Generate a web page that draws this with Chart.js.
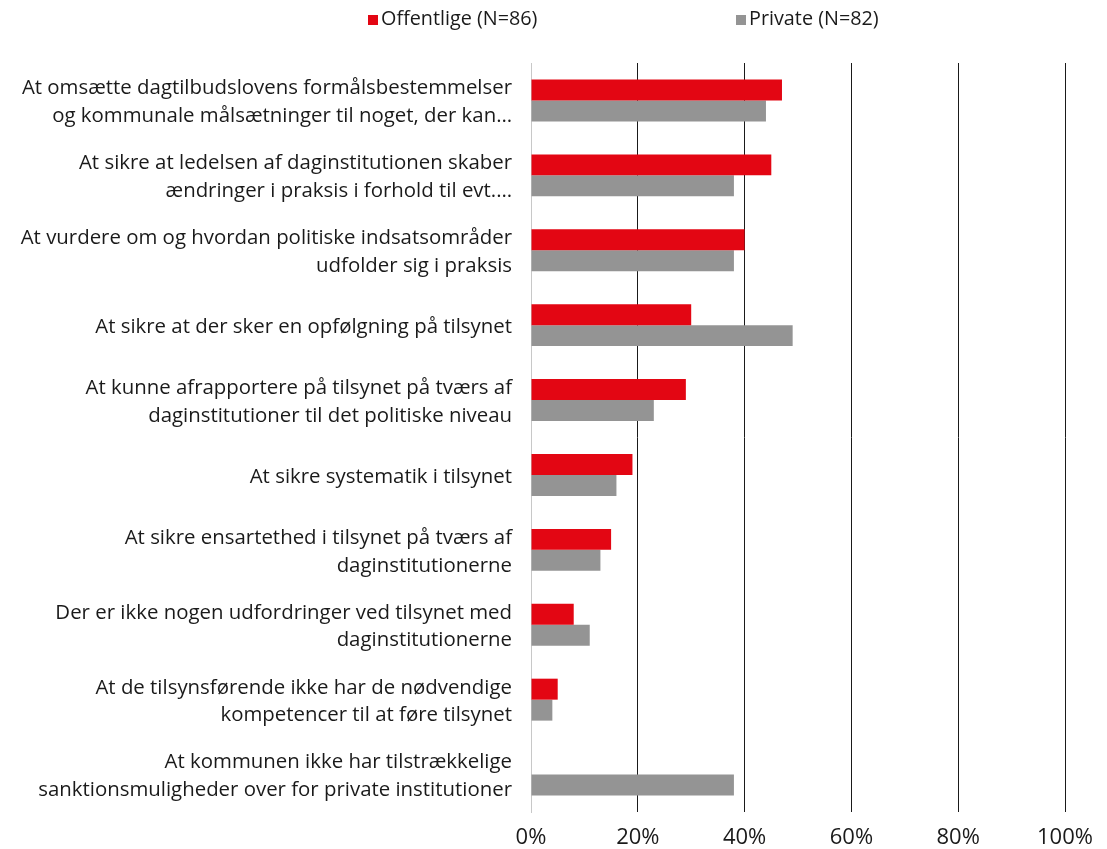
<!DOCTYPE html>
<html>
<head>
<meta charset="utf-8">
<script src="https://cdn.jsdelivr.net/npm/chart.js@4/dist/chart.umd.min.js"></script>
<style>
  html, body { margin: 0; padding: 0; background: #fff; }
  #wrap { position: relative; width: 1107px; height: 849px; }
  #legend { position: absolute; top: 4px; left: 0; width: 1107px; height: 28px; font-family: "Open Sans", sans-serif; font-size: 19.8px; color: #1a1a1a; }
  #legend .item { position: absolute; top: 0; line-height: 28px; white-space: nowrap; }
  #legend .box { display: inline-block; width: 10px; height: 10px; margin-right: 3px; vertical-align: 0px; }
</style>
</head>
<body>
<div id="wrap">
  <div id="legend"></div>
  <canvas id="myChart" width="1107" height="849"></canvas>
</div>
<script>
const categories = [
  ['At omsætte dagtilbudslovens formålsbestemmelser', 'og kommunale målsætninger til noget, der kan…'],
  ['At sikre at ledelsen af daginstitutionen skaber', 'ændringer i praksis i forhold til evt.…'],
  ['At vurdere om og hvordan politiske indsatsområder', 'udfolder sig i praksis'],
  ['At sikre at der sker en opfølgning på tilsynet'],
  ['At kunne afrapportere på tilsynet på tværs af', 'daginstitutioner til det politiske niveau'],
  ['At sikre systematik i tilsynet'],
  ['At sikre ensartethed i tilsynet på tværs af', 'daginstitutionerne'],
  ['Der er ikke nogen udfordringer ved tilsynet med', 'daginstitutionerne'],
  ['At de tilsynsførende ikke har de nødvendige', 'kompetencer til at føre tilsynet'],
  ['At kommunen ikke har tilstrækkelige', 'sanktionsmuligheder over for private institutioner']
];
const seriesNames = ['Offentlige (N=86)', 'Private (N=82)'];
const offentlige = [47, 45, 40, 30, 29, 19, 15, 8, 5, 0];
const privateInst = [44, 38, 38, 49, 23, 16, 13, 11, 4, 38];
const tickValues = [0, 20, 40, 60, 80, 100];

const colors = ['#e30613', '#949494'];
const font = '"Open Sans", sans-serif';

const data = {
  labels: categories,
  datasets: [{
    label: seriesNames[0],
    data: offentlige,
    backgroundColor: colors[0],
    borderWidth: 0,
    categoryPercentage: 0.56,
    barPercentage: 1.0
  }, {
    label: seriesNames[1],
    data: privateInst,
    backgroundColor: colors[1],
    borderWidth: 0,
    categoryPercentage: 0.56,
    barPercentage: 1.0
  }]
};

const config = {
  type: 'bar',
  data: data,
  options: {
    indexAxis: 'y',
    responsive: false,
    animation: false,
    layout: { padding: { top: 63, right: 42, left: 0, bottom: 0 } },
    plugins: {
      legend: { display: false },
      tooltip: { enabled: false }
    },
    scales: {
      x: {
        min: 0,
        max: 100,
        afterBuildTicks: function(scale) {
          scale.ticks = tickValues.map(v => ({ value: v }));
        },
        afterFit: function(scale) {
          scale.height = 37;
          scale.paddingLeft = 0;
          scale.paddingRight = 0;
        },
        grid: {
          drawTicks: false,
          color: function(ctx) { return ctx.tick && ctx.tick.value === 0 ? '#c8c8c8' : '#1a1a1a'; },
          lineWidth: 1
        },
        border: { display: false },
        ticks: {
          padding: 10,
          color: '#1a1a1a',
          font: { family: font, size: 22, lineHeight: 1.45 },
          callback: function(v) { return v + '%'; }
        }
      },
      y: {
        afterFit: function(scale) {
          scale.width = 531;
          scale.paddingTop = 0;
          scale.paddingBottom = 0;
        },
        grid: { display: false, drawTicks: false },
        border: { display: true, color: '#c8c8c8', width: 1 },
        ticks: {
          padding: 19,
          labelOffset: 2,
          color: '#1a1a1a',
          font: { family: font, size: 20.4, lineHeight: 1.36 }
        }
      }
    }
  }
};

var myChart = new Chart(document.getElementById('myChart'), config);

// legend built from the datasets
const legendPos = [368, 736];
const legend = document.getElementById('legend');
myChart.data.datasets.forEach(function(ds, i) {
  const item = document.createElement('span');
  item.className = 'item';
  item.style.left = legendPos[i] + 'px';
  item.innerHTML = '<span class="box" style="background:' + ds.backgroundColor + '"></span>' + ds.label;
  legend.appendChild(item);
});
</script>
</body>
</html>
